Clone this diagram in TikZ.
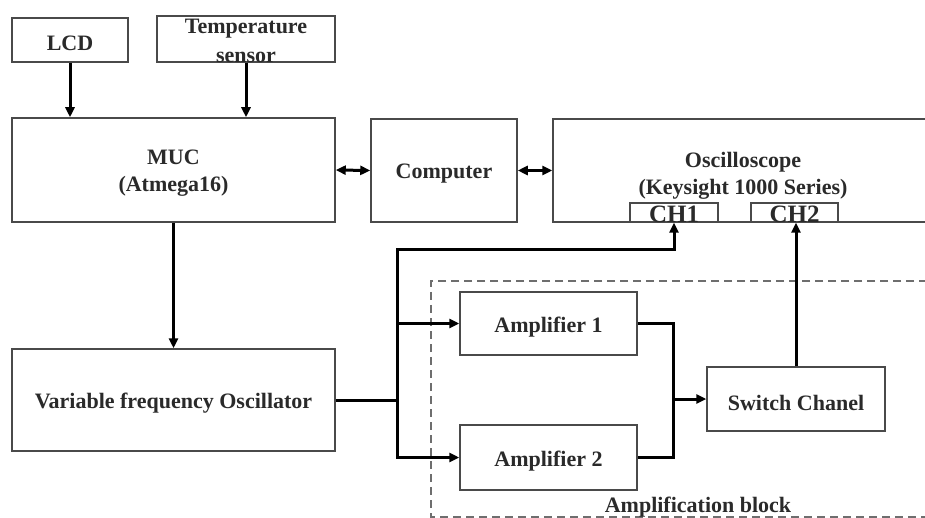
\documentclass[tikz,border=0pt]{standalone}
\usepackage{fontspec}
\setmainfont{Liberation Serif}
\usetikzlibrary{arrows.meta}
\definecolor{boxc}{HTML}{4A4A4A}
\definecolor{txtc}{HTML}{2A2A2A}
\tikzset{
  lbl/.style={font=\fontsize{22}{27}\selectfont\bfseries, text=txtc, align=center, yshift=-3.5pt},
  blk/.style={draw=boxc, line width=1.5pt, rectangle, inner sep=0pt,
    label={[lbl]center:#1}},
  chbox/.style={draw=boxc, line width=1.3pt, rectangle, inner sep=0pt,
    label={[font=\fontsize{25}{25}\selectfont\bfseries, text=txtc, yshift=-1.5pt]center:#1}},
  wire/.style={line width=3pt, black, line join=miter},
  arr/.style={wire, -{Triangle[length=10pt,width=9pt]}},
  darr/.style={wire, {Triangle[length=10pt,width=9pt]}-{Triangle[length=10pt,width=9pt]}},
  dashbox/.style={draw=boxc!80, line width=1.3pt, dash pattern=on 8pt off 5pt}
}
\begin{document}
\begin{tikzpicture}[x=1pt,y=-1pt]
\useasboundingbox (0,0) rectangle (925,518);
\clip (0,0) rectangle (925,518);
\fill[white] (0,0) rectangle (925,518);
% dashed amplification block
\draw[dashbox] (940,281) -- (431,281) -- (431,517) -- (940,517);
% boxes
\node[blk={LCD}, minimum width=116pt, minimum height=44pt] (lcd) at (70,40) {};
\node[draw=boxc, line width=1.5pt, inner sep=0pt, minimum width=178pt, minimum height=46pt,
  label={[font=\fontsize{22}{29}\selectfont\bfseries, text=txtc, align=center, yshift=-2pt]center:Temperature\\sensor}] (temp) at (246,39) {};
\node[blk={MUC\\(Atmega16)}, minimum width=323pt, minimum height=104pt] (muc) at (173.5,170) {};
\node[blk={Computer}, minimum width=146pt, minimum height=103pt] (comp) at (444,170.5) {};
\node[draw=boxc, line width=1.5pt, inner sep=0pt, minimum width=390pt, minimum height=103pt] (osc) at (748,170.5) {};
\node[lbl] (osct) at (743,172) {Oscilloscope\\(Keysight 1000 Series)};
\node[chbox={CH1}, minimum width=88pt, minimum height=19pt] (ch1) at (674,212.5) {};
\node[chbox={CH2}, minimum width=87pt, minimum height=19pt] (ch2) at (794.5,212.5) {};
\node[blk={Variable frequency Oscillator}, minimum width=323pt, minimum height=102pt] (vfo) at (173.5,400) {};
\node[blk={Amplifier 1}, minimum width=177pt, minimum height=63pt] (amp1) at (548.5,323.5) {};
\node[blk={Amplifier 2}, minimum width=177pt, minimum height=65pt] (amp2) at (548.5,457.5) {};
\node[blk={Switch Chanel}, minimum width=178pt, minimum height=64pt] (sw) at (796,399) {};
\node[lbl] (ablk) at (698,504) {Amplification block};
% connectors
\draw[arr] (lcd.south) -- (lcd.south |- muc.north);
\draw[arr] (temp.south) -- (temp.south |- muc.north);
\draw[darr] (muc.east) -- (comp.west);
\draw[darr] (comp.east) -- (comp.east -| osc.west);
\draw[arr] (muc.south) -- (vfo.north);
\coordinate (j) at (397,400);
\coordinate (tc) at (397,250);
\coordinate (k) at (673,399);
\draw[wire] (vfo.east) -- (j);
\draw[arr] (j) -- (tc) -| (ch1.south);
\draw[arr] (tc) |- (amp1.west);
\draw[arr] (j) |- (amp2.west);
\draw[wire] (amp1.east) -| (k) |- (amp2.east);
\draw[arr] (k) -- (sw.west);
\draw[arr] (sw.north) -- (sw.north |- ch2.south);
\end{tikzpicture}
\end{document}
